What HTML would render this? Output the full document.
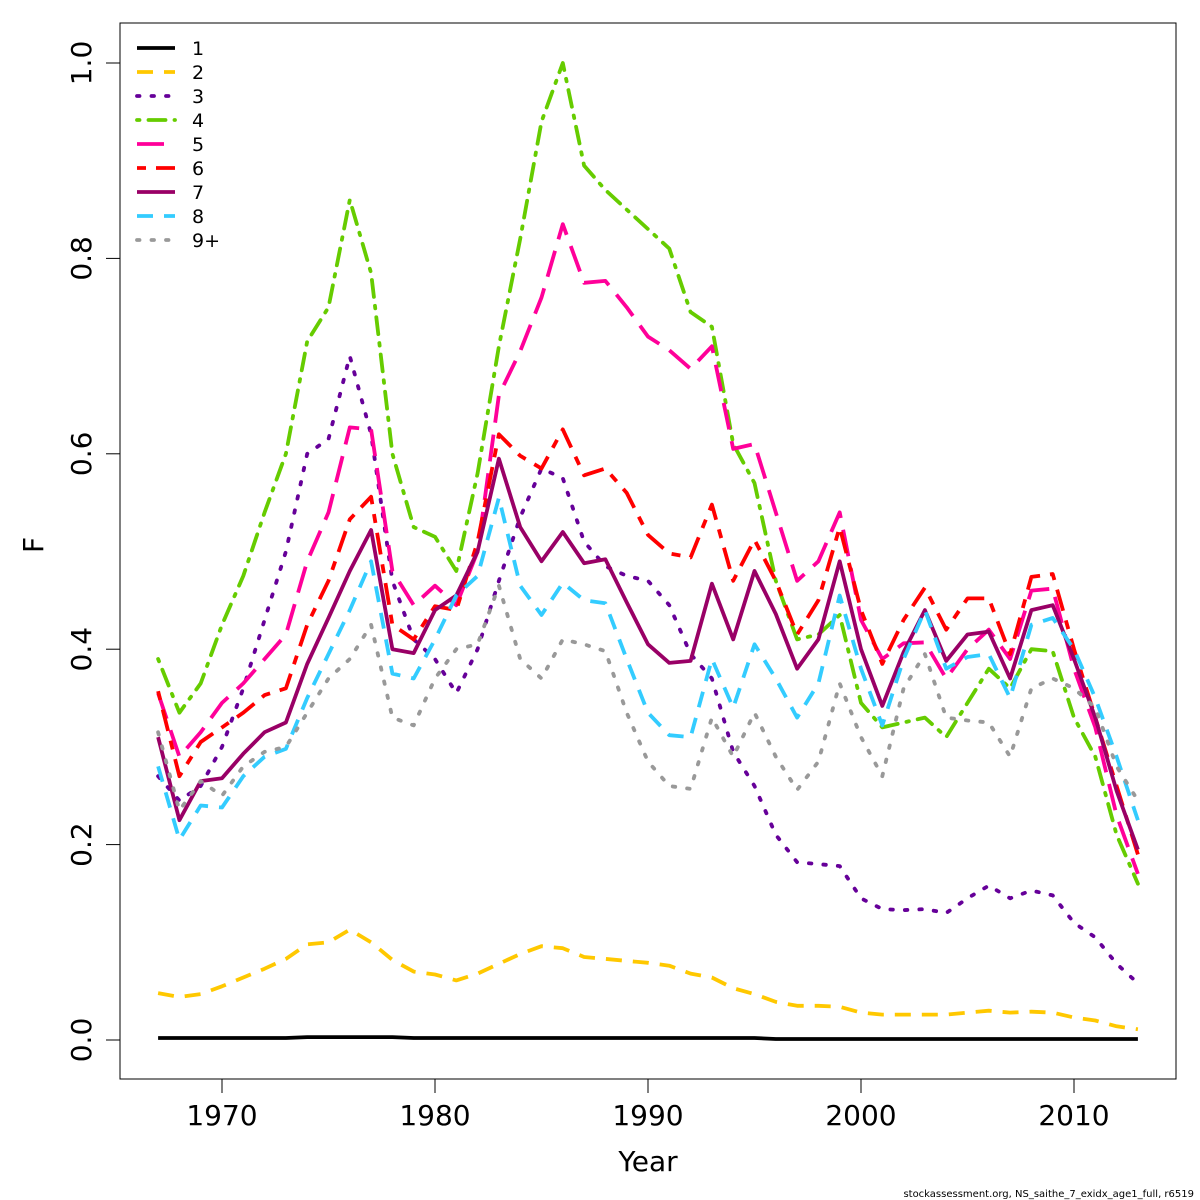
<!DOCTYPE html>
<html><head><meta charset="utf-8"><style>
body{margin:0;background:#fff}
svg{display:block;font-family:"DejaVu Sans","Liberation Sans",sans-serif}
</style></head><body>
<svg id="chart" width="1200" height="1200" viewBox="0 0 1200 1200"></svg>
<script>
const years = [];
for (let y = 1967; y <= 2013; y++) years.push(y);
const seriesNames = ["1","2","3","4","5","6","7","8","9+"];
const age1 = [0.002,0.002,0.002,0.002,0.002,0.002,0.002,0.003,0.003,0.003,0.003,0.003,0.002,0.002,0.002,0.002,0.002,0.002,0.002,0.002,0.002,0.002,0.002,0.002,0.002,0.002,0.002,0.002,0.002,0.001,0.001,0.001,0.001,0.001,0.001,0.001,0.001,0.001,0.001,0.001,0.001,0.001,0.001,0.001,0.001,0.001,0.001];
const age2 = [0.048,0.044,0.047,0.055,0.064,0.073,0.083,0.098,0.100,0.113,0.100,0.082,0.070,0.067,0.061,0.068,0.078,0.088,0.096,0.094,0.085,0.083,0.081,0.079,0.076,0.068,0.064,0.053,0.047,0.039,0.035,0.035,0.034,0.028,0.026,0.026,0.026,0.026,0.028,0.030,0.028,0.029,0.028,0.023,0.020,0.014,0.011];
const age3 = [0.270,0.245,0.260,0.300,0.360,0.430,0.500,0.600,0.615,0.700,0.620,0.470,0.410,0.390,0.355,0.400,0.470,0.535,0.585,0.575,0.510,0.485,0.475,0.470,0.445,0.395,0.370,0.295,0.260,0.210,0.182,0.180,0.178,0.145,0.134,0.133,0.134,0.130,0.145,0.158,0.145,0.153,0.148,0.120,0.105,0.078,0.058];
const age4 = [0.390,0.335,0.365,0.425,0.475,0.540,0.600,0.715,0.750,0.860,0.785,0.600,0.525,0.515,0.480,0.580,0.710,0.820,0.940,1.000,0.895,0.870,0.850,0.830,0.810,0.745,0.730,0.610,0.570,0.470,0.410,0.415,0.435,0.345,0.320,0.325,0.330,0.310,0.345,0.380,0.360,0.400,0.398,0.330,0.290,0.210,0.160];
const age5 = [0.355,0.290,0.315,0.345,0.365,0.390,0.415,0.490,0.540,0.627,0.625,0.480,0.445,0.465,0.445,0.500,0.660,0.705,0.760,0.835,0.775,0.777,0.750,0.720,0.706,0.687,0.710,0.605,0.610,0.540,0.470,0.490,0.540,0.430,0.390,0.406,0.407,0.370,0.400,0.420,0.390,0.460,0.462,0.380,0.320,0.230,0.170];
const age6 = [0.357,0.270,0.305,0.320,0.335,0.353,0.360,0.425,0.470,0.533,0.556,0.425,0.410,0.444,0.440,0.510,0.620,0.598,0.585,0.625,0.578,0.585,0.560,0.517,0.498,0.494,0.548,0.470,0.512,0.470,0.415,0.450,0.525,0.440,0.385,0.430,0.463,0.420,0.452,0.452,0.395,0.474,0.477,0.400,0.330,0.260,0.190];
const age7 = [0.310,0.225,0.265,0.268,0.293,0.315,0.325,0.385,0.432,0.480,0.522,0.400,0.396,0.440,0.455,0.500,0.595,0.525,0.490,0.520,0.488,0.492,0.448,0.405,0.386,0.388,0.467,0.410,0.480,0.436,0.380,0.410,0.490,0.400,0.342,0.397,0.440,0.388,0.415,0.418,0.370,0.440,0.445,0.390,0.330,0.255,0.195];
const age8 = [0.280,0.205,0.240,0.238,0.270,0.290,0.298,0.350,0.395,0.440,0.490,0.375,0.370,0.410,0.455,0.475,0.555,0.465,0.435,0.468,0.450,0.447,0.390,0.335,0.312,0.310,0.390,0.340,0.405,0.370,0.330,0.365,0.455,0.380,0.322,0.390,0.440,0.380,0.392,0.395,0.350,0.425,0.432,0.400,0.350,0.290,0.225];
const age9 = [0.315,0.235,0.265,0.250,0.280,0.295,0.300,0.335,0.370,0.390,0.425,0.330,0.322,0.370,0.400,0.405,0.465,0.390,0.370,0.410,0.405,0.398,0.335,0.285,0.260,0.257,0.330,0.290,0.335,0.290,0.256,0.285,0.365,0.310,0.270,0.360,0.395,0.330,0.327,0.325,0.290,0.360,0.370,0.360,0.340,0.280,0.245];
const allSeries = [age1,age2,age3,age4,age5,age6,age7,age8,age9];
const colors = ["#000000","#FFC800","#660099","#66CC00","#FF0099","#FF0000","#990066","#33CCFF","#999999"];
const dashes = ["", "16 11", "2.5 12", "2.5 9 17 9", "27 12", "9 10 22 10", "", "16 11", "2.5 12"];
const xTicks = [1970,1980,1990,2000,2010];
const yTicks = [0,0.2,0.4,0.6,0.8,1.0];
const yTickLabels = ["0.0","0.2","0.4","0.6","0.8","1.0"];

const svg = document.getElementById('chart');
const NS = 'http://www.w3.org/2000/svg';
const xs = yr => 222 + (yr - 1970) * 21.3;
const ys = v => 1040 - v * 977;
function mk(tag, attrs, parent) {
  const e = document.createElementNS(NS, tag);
  for (const k in attrs) e.setAttribute(k, attrs[k]);
  (parent || svg).appendChild(e);
  return e;
}
const box = mk('rect', {x:120, y:23, width:1056, height:1056, fill:'none', stroke:'#000', 'stroke-width':1});



xTicks.forEach(t => {
  const l = mk('line', {x1:xs(t), x2:xs(t), y1:1079, y2:1093, stroke:'#000'});
  
  
  const tx = mk('text', {x:xs(t), y:1125, 'font-size':28, 'text-anchor':'middle'});
  tx.textContent = t;
  
  
});
yTicks.forEach((t, i) => {
  const l = mk('line', {x1:106, x2:120, y1:ys(t), y2:ys(t), stroke:'#000'});
  
  
  const tx = mk('text', {x:0, y:0, 'font-size':28, 'text-anchor':'middle', transform:`translate(91,${ys(t)}) rotate(-90)`});
  tx.textContent = yTickLabels[i];
  
  
});
const xt = mk('text', {x:648, y:1171, 'font-size':28, 'text-anchor':'middle'});
xt.textContent = 'Year';


const yt = mk('text', {x:0, y:0, 'font-size':28, 'text-anchor':'middle', transform:'translate(43,545) rotate(-90)'});
yt.textContent = 'F';


const ft = mk('text', {x:1194, y:1197, 'font-size':10, 'text-anchor':'end'});
ft.textContent = 'stockassessment.org, NS_saithe_7_exidx_age1_full, r6519';



allSeries.forEach((vals, si) => {
  const d = vals.map((v, i) => (i ? 'L' : 'M') + xs(years[i]).toFixed(1) + ' ' + ys(v).toFixed(1)).join(' ');
  const dotted = (si === 2 || si === 8 || si === 3);
  const p = mk('path', {d, fill:'none', stroke:colors[si], 'stroke-width':3.8, 'stroke-linejoin':'round', 'stroke-linecap': dotted ? 'round' : 'butt'});
  if (dashes[si]) p.setAttribute('stroke-dasharray', dashes[si]);
  
  
});

const lg = mk('g', {});


seriesNames.forEach((n, i) => {
  const y = 48 + i * 24;
  const dotted = (i === 2 || i === 8 || i === 3);
  const l = mk('line', {x1:137, x2:175, y1:y, y2:y, stroke:colors[i], 'stroke-width':3.8, 'stroke-linecap': dotted ? 'round' : 'butt'}, lg);
  if (dashes[i]) l.setAttribute('stroke-dasharray', dashes[i]);
  
  
  const t = mk('text', {x:192, y:y + 7, 'font-size':19}, lg);
  t.textContent = n;
  
  
});
</script>
</body></html>
